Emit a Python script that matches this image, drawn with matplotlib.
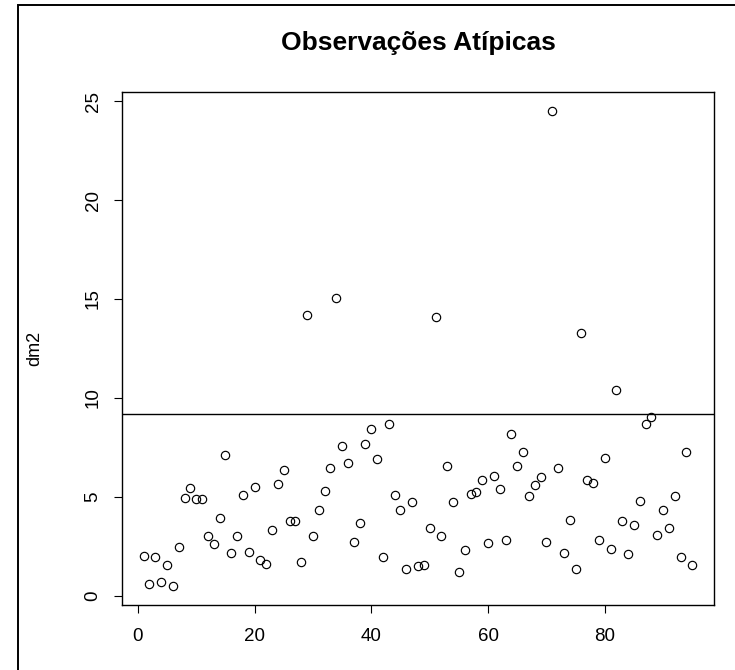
"""
Observações Atípicas - distâncias de Mahalanobis (dm2) por observação.
"""

import matplotlib
matplotlib.use('Agg')
import matplotlib.pyplot as plt
from matplotlib.patches import Rectangle

# valores (índice 1..95)
dm2 = [
    2.03, 0.59, 1.96, 0.72, 1.56, 0.50, 2.48, 4.96, 5.44, 4.91,
    4.91, 3.02, 2.60, 3.94, 7.12, 2.18, 3.02, 5.11, 2.23, 5.49,
    1.81, 1.62, 3.35, 5.64, 6.35, 3.77, 3.77, 1.69, 14.17, 3.02,
    4.34, 5.31, 6.47, 15.07, 7.59, 6.70, 2.73, 3.70, 7.67, 8.42,
    6.90, 1.98, 8.71, 5.09, 4.34, 1.34, 4.76, 1.49, 1.56, 3.43,
    14.10, 3.02, 6.55, 4.76, 1.21, 2.31, 5.16, 5.23, 5.86, 2.66,
    6.07, 5.38, 2.80, 8.16, 6.55, 7.25, 5.03, 5.58, 6.00, 2.73,
    24.50, 6.48, 2.18, 3.85, 1.34, 13.27, 5.86, 5.71, 2.80, 6.97,
    2.38, 10.39, 3.77, 2.11, 3.57, 4.82, 8.71, 9.06, 3.08, 4.34,
    3.43, 5.03, 1.98, 7.25, 1.56,
]
obs = list(range(1, len(dm2) + 1))
limite = 9.21  # qchisq(0.99, 2)

x_ticks = [0, 20, 40, 60, 80]
y_ticks = [0, 5, 10, 15, 20, 25]

plt.rcParams['font.family'] = ['Liberation Sans', 'DejaVu Sans']

fig = plt.figure(figsize=(7.35, 6.70), dpi=100)
ax = fig.add_axes([0.1656, 0.097, 0.8062, 0.7657])

ax.plot(obs, dm2, 'o', mfc='none', mec='black', ms=6.0, mew=0.85)
ax.axhline(limite, color='black', lw=1.0)
ax.margins(x=0.04, y=0.04)

ax.set_xticks(x_ticks)
ax.set_yticks(y_ticks)
ax.tick_params(axis='both', length=5.5, width=0.8, labelsize=13.5, direction='out')
ax.tick_params(axis='x', pad=11)
ax.tick_params(axis='y', pad=9)
for lab in ax.get_yticklabels():
    lab.set_rotation(90)
    lab.set_va('center')

for spine in ax.spines.values():
    spine.set_linewidth(1.0)

ax.set_ylabel('dm2', fontsize=13, labelpad=30)
ax.set_title('Observações Atípicas', fontsize=19, fontweight='bold', pad=30)

# moldura da janela (canto superior esquerdo)
fig.patches.append(Rectangle((17.5 / 735, -0.1), 1.2, 1.1 - 4.7 / 670,
                             transform=fig.transFigure, fill=False,
                             edgecolor='black', linewidth=1.4))

plt.savefig('out.png', dpi=100, facecolor='white')
plt.close()
